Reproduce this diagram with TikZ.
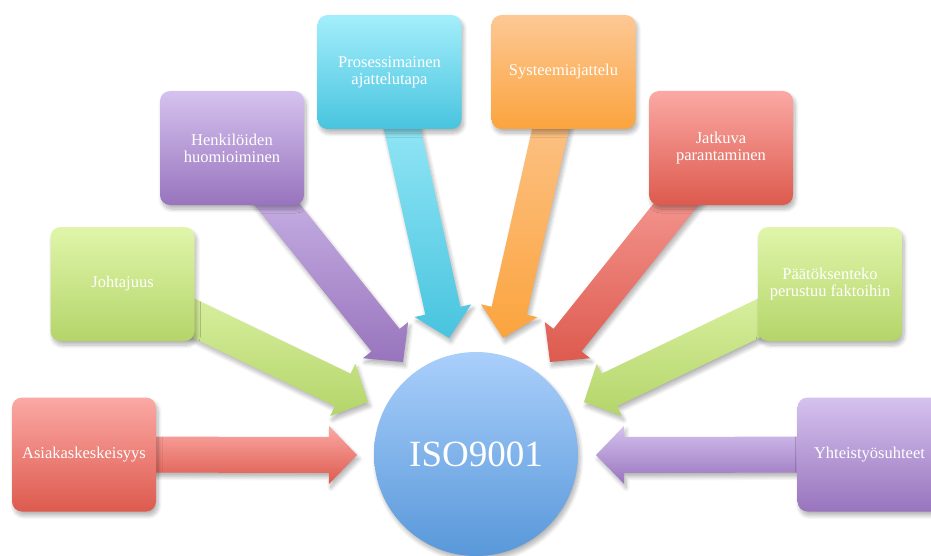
\documentclass[tikz,border=0pt]{standalone}
\usepackage{fontspec}
\setmainfont{Liberation Serif}
\usetikzlibrary{calc,shadows.blur}
\definecolor{redT}{HTML}{FBA9A4}
\definecolor{redB}{HTML}{DD5A4E}
\definecolor{grnT}{HTML}{E0F5AA}
\definecolor{grnB}{HTML}{B4D56A}
\definecolor{purT}{HTML}{D5C2EF}
\definecolor{purB}{HTML}{9874BD}
\definecolor{cyaT}{HTML}{A4EEFB}
\definecolor{cyaB}{HTML}{48C4DF}
\definecolor{orgT}{HTML}{FDC895}
\definecolor{orgB}{HTML}{FBA43E}
\definecolor{bluT}{HTML}{AACFFB}
\definecolor{bluB}{HTML}{5898DA}
\pgfdeclarelayer{bg}
\pgfsetlayers{bg,main}
\tikzset{
  softshadow/.style={blur shadow={shadow xshift=2pt, shadow yshift=-4pt, shadow opacity=30, shadow blur radius=4pt, shadow blur steps=8}},
  box/.style={rectangle, rounded corners=10pt, minimum width=144pt, minimum height=114pt,
    align=center, text=white, font=\fontsize{16.5}{17}\selectfont, inner sep=2pt, softshadow},
  hub/.style={circle, minimum size=204pt, inner sep=0pt, top color=bluT, bottom color=bluB,
    text=white, font=\fontsize{37}{40}\selectfont, softshadow},
  shd/.style 2 args={top color=#1, bottom color=#2},
}
\newcommand\blkarrow[4]{%
  \path (#2) coordinate (tipp) ($(#2)!28pt!(#1)$) coordinate (hb);
  \path[top color=#3, bottom color=#4, softshadow]
    ($(#1)!18pt!90:(tipp)$) -- ($(hb)!18pt!90:(tipp)$) -- ($(hb)!29pt!90:(tipp)$) -- (tipp)
    -- ($(hb)!29pt!-90:(tipp)$) -- ($(hb)!18pt!-90:(tipp)$) -- ($(#1)!18pt!-90:(tipp)$) -- cycle;
}
\begin{document}
\begin{tikzpicture}[x=1pt,y=-1pt]
\useasboundingbox (0,0) rectangle (931,556);
\node[hub] (iso) at (476,454) {ISO9001};
\node[box, shd={redT}{redB}] (b1) at (84,454.5) {Asiakaskeskeisyys};
\node[box, shd={grnT}{grnB}] (b2) at (122.5,284) {Johtajuus};
\node[box, shd={purT}{purB}] (b3) at (232,148) {Henkilöiden\\huomioiminen};
\node[box, shd={cyaT}{cyaB}] (b4) at (389.5,72) {Prosessimainen\\ajattelutapa};
\node[box, shd={orgT}{orgB}] (b5) at (563.5,72) {Systeemiajattelu};
\node[box, shd={redT}{redB}] (b6) at (721,148) {Jatkuva\\parantaminen};
\node[box, shd={grnT}{grnB}] (b7) at (830,284) {Päätöksenteko\\perustuu faktoihin};
\node[box, shd={purT}{purB}] (b8) at (869.5,454.5) {Yhteistyösuhteet};
\coordinate (t1) at (357,455);
\coordinate (t2) at (368,402);
\coordinate (t3) at (403,362);
\coordinate (t4) at (449,338);
\coordinate (t5) at (503,338);
\coordinate (t6) at (550,362);
\coordinate (t7) at (584,402);
\coordinate (t8) at (596,455);
\begin{pgfonlayer}{bg}
\blkarrow{b1.center}{t1}{redT}{redB}
\blkarrow{b2.center}{t2}{grnT}{grnB}
\blkarrow{b3.center}{t3}{purT}{purB}
\blkarrow{b4.center}{t4}{cyaT}{cyaB}
\blkarrow{b5.center}{t5}{orgT}{orgB}
\blkarrow{b6.center}{t6}{redT}{redB}
\blkarrow{b7.center}{t7}{grnT}{grnB}
\blkarrow{b8.center}{t8}{purT}{purB}
\end{pgfonlayer}
\end{tikzpicture}
\end{document}
